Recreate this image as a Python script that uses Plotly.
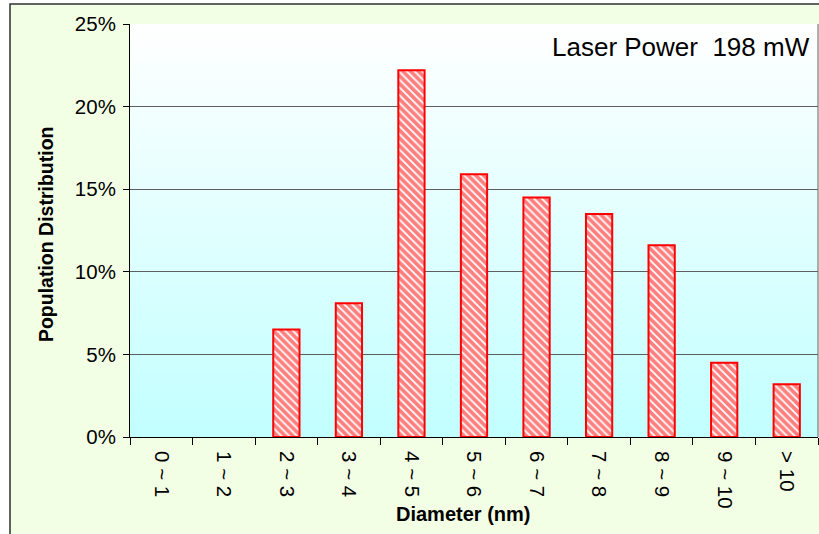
import base64
import plotly.graph_objects as go

# Particle size bins and their share of the population
diameter_bins = ["0 ~ 1", "1 ~ 2", "2 ~ 3", "3 ~ 4", "4 ~ 5", "5 ~ 6",
                 "6 ~ 7", "7 ~ 8", "8 ~ 9", "9 ~ 10", "> 10"]
population_share = [0.0, 0.0, 0.065, 0.081, 0.222, 0.159,
                    0.145, 0.135, 0.116, 0.045, 0.032]
y_tick_values = [0, 0.05, 0.10, 0.15, 0.20, 0.25]

FONT = "Liberation Sans, Arial, sans-serif"
PANEL = "rgb(243,255,229)"

# Vertical white-to-cyan gradient for the plotting area
grad_svg = (
    '<svg xmlns="http://www.w3.org/2000/svg" width="100" height="100" '
    'preserveAspectRatio="none" viewBox="0 0 100 100">'
    '<defs><linearGradient id="g" x1="0" y1="0" x2="0" y2="1">'
    '<stop offset="0" stop-color="#FFFFFF"/>'
    '<stop offset="1" stop-color="#C2FFFF"/>'
    '</linearGradient></defs>'
    '<rect width="100" height="100" fill="url(#g)"/></svg>'
)
grad_uri = "data:image/svg+xml;base64," + base64.b64encode(grad_svg.encode()).decode()

# empty bins get no outline so nothing is drawn at zero
outline_widths = [0 if v == 0 else 2 for v in population_share]

fig = go.Figure()
fig.add_trace(go.Bar(
    x=diameter_bins,
    y=population_share,
    marker=dict(
        color="white",
        line=dict(color="#FF0000", width=outline_widths),
        pattern=dict(shape="\\", fgcolor="#FF0000", bgcolor="white",
                     size=5.5, solidity=0.68),
    ),
    hoverinfo="x+y",
))

fig.update_layout(
    width=819, height=534,
    margin=dict(l=130, r=1, t=24, b=97),
    paper_bgcolor=PANEL,
    plot_bgcolor="rgba(0,0,0,0)",
    bargap=0.58,
    showlegend=False,
    font=dict(family=FONT, color="black", size=20),
    images=[dict(source=grad_uri, xref="paper", yref="paper",
                 x=0, y=1, sizex=1, sizey=1, xanchor="left", yanchor="top",
                 sizing="stretch", layer="below")],
    shapes=[
        # white margin outside the chart frame
        dict(type="rect", xref="paper", yref="paper", x0=-0.25, x1=-0.1744,
             y0=-0.3, y1=1.1, fillcolor="white", line=dict(width=0), layer="below"),
        dict(type="rect", xref="paper", yref="paper", x0=-0.25, x1=1.1,
             y0=1.0484, y1=1.1, fillcolor="white", line=dict(width=0), layer="below"),
        # chart frame
        dict(type="rect", xref="paper", yref="paper", x0=-0.1744, x1=1.05,
             y0=-0.3, y1=1.0484, line=dict(color="#303030", width=1.5),
             fillcolor="rgba(0,0,0,0)", layer="above"),
        # right edge of the plotting area
        dict(type="line", xref="paper", yref="paper", x0=1, x1=1, y0=0, y1=1,
             line=dict(color="#606060", width=1)),
    ],
    annotations=[
        dict(text="Laser Power \u00a0198 mW", xref="paper", yref="paper",
             x=0.992, y=0.944, xanchor="right", yanchor="middle",
             showarrow=False, font=dict(size=26, family=FONT)),
        dict(text="<b>Diameter (nm)</b>", xref="paper", yref="paper",
             x=0.4847, y=-0.186, xanchor="center", yanchor="middle",
             showarrow=False, font=dict(size=20, family=FONT)),
        dict(text="<b>Population Distribution</b>", xref="paper", yref="paper",
             x=-0.122, y=0.4915, xanchor="center", yanchor="middle",
             textangle=-90, showarrow=False, font=dict(size=19.5, family=FONT)),
    ],
)

fig.update_xaxes(
    type="category",
    tickangle=90,
    tickson="boundaries",
    ticks="outside", ticklen=7, tickcolor="black", tickwidth=1,
    ticklabelstandoff=9,
    showline=True, linecolor="black", linewidth=1,
    showgrid=False,
    tickfont=dict(size=20.5, family=FONT),
)
fig.update_yaxes(
    range=[0, 0.25],
    tickvals=y_tick_values,
    tickformat=".0%",
    ticks="outside", ticklen=6, tickcolor="black", tickwidth=1,
    ticklabelstandoff=3,
    showline=True, linecolor="black", linewidth=1,
    showgrid=True, gridcolor="#5E5E5E", gridwidth=1,
    zeroline=False,
    tickfont=dict(size=20.5, family=FONT),
)

fig.write_html("out.html")
